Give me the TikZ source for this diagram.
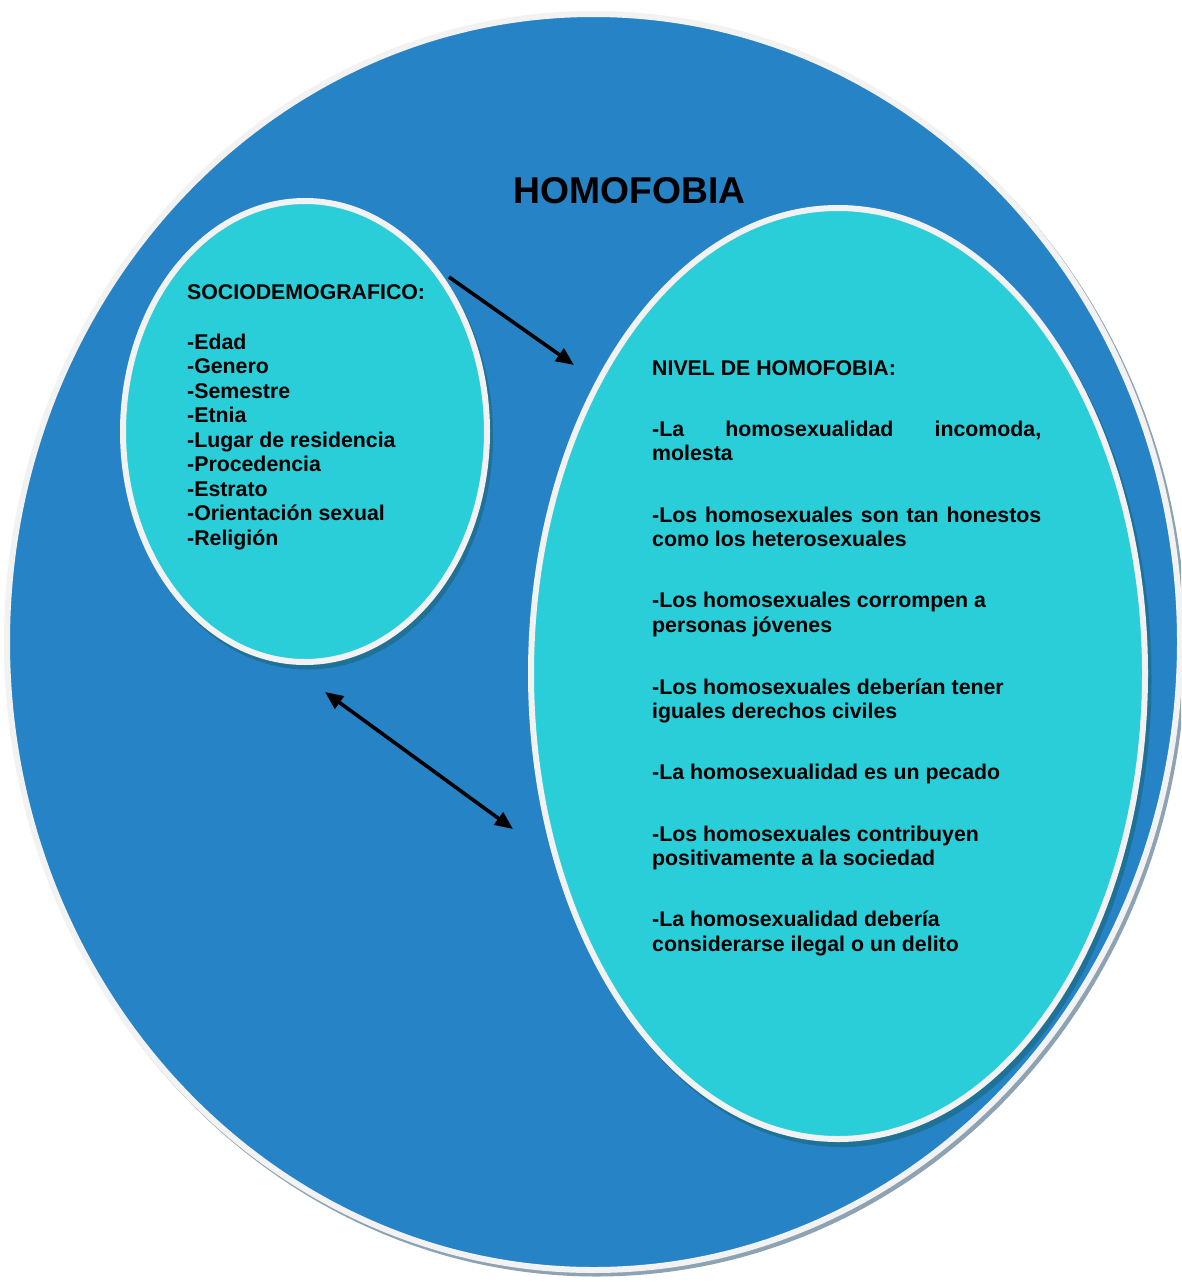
\documentclass[tikz,border=0pt]{standalone}
\usepackage{fontspec}
\setmainfont{Liberation Sans}
\usetikzlibrary{arrows.meta}
\definecolor{outerblue}{HTML}{2683C6}
\definecolor{innercyan}{HTML}{29CED8}
\definecolor{rimgray}{HTML}{F2F2F2}
\definecolor{outershadow}{HTML}{8DA3B3}
\definecolor{innershadow}{HTML}{1E7197}
\begin{document}
\begin{tikzpicture}[x=1pt,y=-1pt,
  txt/.style={inner sep=0pt, anchor=base west, text=black, font=\bfseries\fontsize{21.3}{24.5}\selectfont},
  titletxt/.style={inner sep=0pt, anchor=base, text=black, font=\bfseries\fontsize{37.3}{42}\selectfont},
  rim/.style={draw=rimgray, line width=6pt},
  arr/.style={line width=3.6pt, draw=black},
  tip/.tip={Triangle[length=18pt,width=15pt]}
]
\useasboundingbox (0,0) rectangle (1181,1282);
\clip (0,0) rectangle (1181,1282);
\fill[white] (0,0) rectangle (1181,1282);

% outer circle
\fill[outershadow] (596.5,645.5) ellipse [x radius=589.5, y radius=631];
\filldraw[fill=outerblue, rim] (593.5,642) ellipse [x radius=586.5, y radius=628];

% inner ellipses shadows
\fill[innershadow] (308,436) ellipse [x radius=185, y radius=233.5];
\fill[innershadow] (841.5,678.5) ellipse [x radius=310, y radius=468.5];

% inner ellipses
\filldraw[fill=innercyan, rim] (305,431.5) ellipse [x radius=182, y radius=230.5];
\filldraw[fill=innercyan, rim] (838,673.5) ellipse [x radius=307, y radius=465.5];

% title
\node[titletxt] (title) at (629.5,203) {HOMOFOBIA};

% left text
\node[txt] (socio) at (187,299) {SOCIODEMOGRAFICO:};
\foreach \t [count=\i from 0] in {-Edad,-Genero,-Semestre,-Etnia,-Lugar de residencia,-Procedencia,-Estrato,-Orientación sexual,-Religión}
  \node[txt] (s\i) at (187,349+24.5*\i) {\t};

% right text
\node[txt] (nivel) at (652,375) {NIVEL DE HOMOFOBIA:};
\node[txt] (r1a) at (652,436) {\makebox[389pt][s]{-La homosexualidad incomoda,}};
\node[txt] (r1b) at (652,460) {molesta};
\node[txt] (r2a) at (652,522) {\makebox[389pt][s]{-Los homosexuales son tan honestos}};
\node[txt] (r2b) at (652,546) {como los heterosexuales};
\node[txt] (r3a) at (652,607) {-Los homosexuales corrompen a};
\node[txt] (r3b) at (652,632) {personas jóvenes};
\node[txt] (r4a) at (652,694) {-Los homosexuales deberían tener};
\node[txt] (r4b) at (652,718) {iguales derechos civiles};
\node[txt] (r5a) at (652,779) {-La homosexualidad es un pecado};
\node[txt] (r6a) at (652,841) {-Los homosexuales contribuyen};
\node[txt] (r6b) at (652,865) {positivamente a la sociedad};
\node[txt] (r7a) at (652,926) {-La homosexualidad debería};
\node[txt] (r7b) at (652,951) {considerarse ilegal o un delito};

% arrows
\coordinate (a1s) at (449,277);
\coordinate (a1e) at (574,365);
\coordinate (a2s) at (325,692);
\coordinate (a2e) at (513,829);
\draw[arr, -{tip}] (a1s) -- (a1e);
\draw[arr, {tip}-{tip}] (a2s) -- (a2e);
\end{tikzpicture}
\end{document}
